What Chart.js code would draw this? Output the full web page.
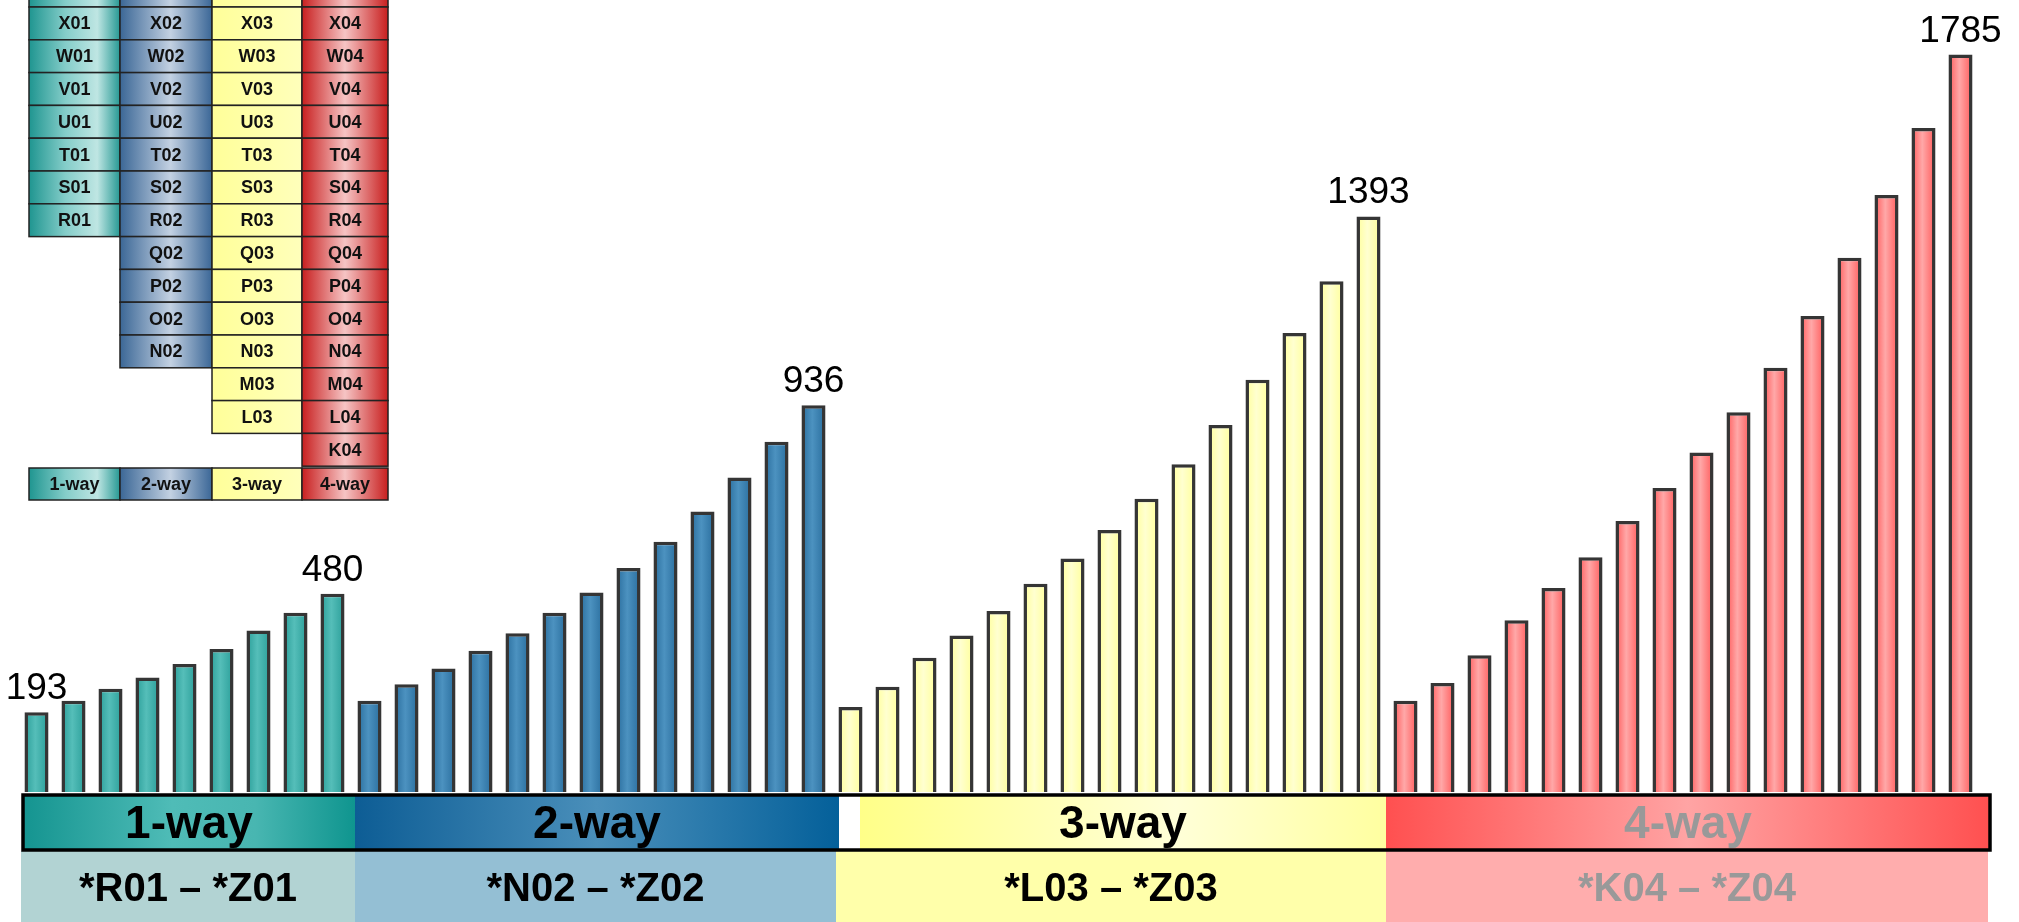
<!DOCTYPE html>
<html lang="en">
<head>
  <meta charset="UTF-8">
  <title>n-way combinations</title>
  <script src="https://cdn.jsdelivr.net/npm/chart.js"></script>
  <style>
body {
  margin: 0;
  background: #ffffff;
}
#wrap {
  position: relative;
  width: 2019px;
  height: 922px;
}
  </style>
</head>
<body>
  <div id="wrap"><canvas id="waysChart"></canvas></div>

  <script>
    // data
    const letters = ['K', 'L', 'M', 'N', 'O', 'P', 'Q', 'R', 'S', 'T', 'U', 'V', 'W', 'X', 'Y', 'Z'];
    const groupNames = ['1-way', '2-way', '3-way', '4-way'];
    const groupFirst = ['R', 'N', 'L', 'K'];
    const groupSuffix = ['01', '02', '03', '04'];
    const rangeLabels = ['*R01 – *Z01', '*N02 – *Z02', '*L03 – *Z03', '*K04 – *Z04'];
    const oneWay = [193, 221, 250, 277, 310, 346, 391, 434, 480];
    const twoWay = [221, 261, 299, 342, 384, 434, 483, 542, 606, 679, 761, 848, 936];
    const threeWay = [206, 255, 325, 379, 438, 504, 565, 634, 710, 793, 888, 998, 1111, 1236, 1393];
    const fourWay = [221, 264, 331, 416, 494, 568, 656, 736, 822, 919, 1027, 1152, 1293, 1445, 1607, 1785];

    const groups = [oneWay, twoWay, threeWay, fourWay];

    // build categories + flat values
    const categories = [];
    const values = [];
    const groupOf = [];
    groups.forEach((g, gi) => {
      const start = letters.indexOf(groupFirst[gi]);
      letters.slice(start).forEach((l, k) => {
        categories.push(l + groupSuffix[gi]);
        values.push(g[k]);
        groupOf.push(gi);
      });
    });

    // indices that get a value label: first bar, and last bar of each group
    const labelled = [0];
    let run = 0;
    groups.forEach(g => { run += g.length; labelled.push(run - 1); });

    const FONT = "'Liberation Sans', Arial, sans-serif";
    const BAR_PCT = 0.65;

    // colours
    const barStops = [
      ['#2a9e99', '#55beb9', '#2a9e99'],
      ['#296d9d', '#4c92c0', '#296d9d'],
      ['#ffff99', '#ffffd0', '#ffff99'],
      ['#ff5a5a', '#ffa8a8', '#ff5a5a']
    ];
    const cellStops = [
      [[0, '#1f9590'], [0.4, '#84cdc9'], [0.75, '#bfe6e3'], [1, '#279994']],
      [[0, '#3b6796'], [0.55, '#c3d1e2'], [1, '#3b6797']],
      [[0, '#ffff99'], [1, '#ffffbb']],
      [[0, '#c81f1f'], [0.5, '#f6c4c4'], [1, '#c81f1f']]
    ];
    const bandStops = [
      [[0, '#149490'], [0.45, '#4fbcb7'], [0.7, '#48b6b1'], [1, '#0f958f']],
      [[0, '#0d5d95'], [0.5, '#4a8fba'], [1, '#04609a']],
      [[0, '#ffff88'], [0.6, '#ffffd8'], [1, '#ffffa0']],
      [[0, '#ff5050'], [0.5, '#ffa4a4'], [1, '#ff5050']]
    ];
    const rangeFill = ['#b2d3d3', '#94bfd4', '#ffffaa', '#ffadad'];
    const textColor = ['#000000', '#000000', '#000000', '#999999'];

    // layout of the decorations (pixels)
    const tableCols = [29, 120, 212, 302, 388];
    const tableRowH = 32.8;
    const tableTopX = 7;         // top of the X row
    const legendRow = [468, 500];
    const bandEdges = [[23, 355], [355, 839], [860, 1386], [1386, 1990]];
    const rangeEdges = [[21, 355], [355, 836], [836, 1386], [1386, 1988]];
    const bandY = [795, 850];
    const rangeY = [851, 922];

    function hGrad(ctx, x0, x1, stops) {
      const g = ctx.createLinearGradient(x0, 0, x1, 0);
      stops.forEach(s => g.addColorStop(s[0], s[1]));
      return g;
    }

    // the small lookup table in the top-left corner
    const tablePlugin = {
      id: 'table',
      beforeDraw(chart) {
        const ctx = chart.ctx;
        ctx.save();
        const rows = letters.slice().reverse(); // Z .. K
        ctx.font = 'bold 18px ' + FONT;
        ctx.textAlign = 'center';
        ctx.textBaseline = 'middle';
        ctx.lineWidth = 1.5;
        ctx.strokeStyle = '#222222';
        for (let c = 0; c < 4; c++) {
          const x0 = tableCols[c], x1 = tableCols[c + 1];
          const last = rows.indexOf(groupFirst[c]);
          for (let r = 0; r <= last; r++) {
            const y0 = tableTopX + (r - 2) * tableRowH;
            ctx.fillStyle = hGrad(ctx, x0, x1, cellStops[c]);
            ctx.fillRect(x0, y0, x1 - x0, tableRowH);
            ctx.strokeRect(x0, y0, x1 - x0, tableRowH);
            ctx.fillStyle = '#111111';
            ctx.fillText(rows[r] + groupSuffix[c], (x0 + x1) / 2, y0 + tableRowH / 2 + 1);
          }
          // legend row
          const h = legendRow[1] - legendRow[0];
          ctx.fillStyle = hGrad(ctx, x0, x1, cellStops[c]);
          ctx.fillRect(x0, legendRow[0], x1 - x0, h);
          ctx.strokeRect(x0, legendRow[0], x1 - x0, h);
          ctx.fillStyle = '#111111';
          ctx.fillText(groupNames[c], (x0 + x1) / 2, legendRow[0] + h / 2 + 1);
        }
        ctx.restore();
      }
    };

    // the two strips under the bars
    const bandPlugin = {
      id: 'bands',
      afterDraw(chart) {
        const ctx = chart.ctx;
        ctx.save();
        ctx.textAlign = 'center';
        ctx.textBaseline = 'alphabetic';
        // second row: ranges
        for (let g = 0; g < 4; g++) {
          const [x0, x1] = rangeEdges[g];
          ctx.fillStyle = rangeFill[g];
          ctx.fillRect(x0, rangeY[0], x1 - x0, rangeY[1] - rangeY[0]);
          ctx.fillStyle = textColor[g];
          ctx.font = 'bold 40px ' + FONT;
          ctx.fillText(rangeLabels[g], (x0 + x1) / 2, 901);
        }
        // first row: n-way names
        ctx.fillStyle = '#ffffff';
        ctx.fillRect(bandEdges[0][0], bandY[0], bandEdges[3][1] - bandEdges[0][0], bandY[1] - bandY[0]);
        for (let g = 0; g < 4; g++) {
          const [x0, x1] = bandEdges[g];
          ctx.fillStyle = hGrad(ctx, x0, x1, bandStops[g]);
          ctx.fillRect(x0, bandY[0], x1 - x0, bandY[1] - bandY[0]);
          ctx.fillStyle = textColor[g];
          ctx.font = 'bold 46px ' + FONT;
          ctx.fillText(groupNames[g], (x0 + x1) / 2, 838);
        }
        ctx.lineWidth = 3.5;
        ctx.strokeStyle = '#000000';
        ctx.strokeRect(bandEdges[0][0], bandY[0], bandEdges[3][1] - bandEdges[0][0], bandY[1] - bandY[0]);
        ctx.restore();
      }
    };

    // value labels above first / last bars
    const valuePlugin = {
      id: 'values',
      afterDatasetsDraw(chart) {
        const ctx = chart.ctx;
        const meta = chart.getDatasetMeta(0);
        ctx.save();
        ctx.font = '37px ' + FONT;
        ctx.fillStyle = '#000000';
        ctx.textAlign = 'center';
        ctx.textBaseline = 'alphabetic';
        labelled.forEach(i => {
          const bar = meta.data[i];
          ctx.fillText(String(values[i]), bar.x, bar.y - 13);
        });
        ctx.restore();
      }
    };

    function barFill(context) {
      const chart = context.chart;
      const g = groupOf[context.dataIndex];
      const xs = chart.scales.x;
      if (!xs || !chart.chartArea) return barStops[g][1];
      const cx = xs.getPixelForValue(context.dataIndex);
      const half = xs.width / categories.length * BAR_PCT / 2;
      const grad = chart.ctx.createLinearGradient(cx - half, 0, cx + half, 0);
      grad.addColorStop(0, barStops[g][0]);
      grad.addColorStop(0.45, barStops[g][1]);
      grad.addColorStop(1, barStops[g][2]);
      return grad;
    }

    const waysCtx = document.getElementById('waysChart').getContext('2d');
    new Chart(waysCtx, {
      type: 'bar',
      data: {
        labels: categories,
        datasets: [{
          label: 'combinations',
          data: values,
          backgroundColor: barFill,
          borderColor: '#353535',
          borderWidth: 3.5,
          barPercentage: BAR_PCT,
          categoryPercentage: 1
        }]
      },
      options: {
        responsive: true,
        maintainAspectRatio: false,
        animation: false,
        layout: { padding: { left: 18, right: 40, top: 7, bottom: 130 } },
        plugins: {
          legend: { display: false },
          tooltip: { enabled: false }
        },
        scales: {
          x: { display: false, offset: true },
          y: { display: false, min: 0, max: 1900 }
        }
      },
      plugins: [tablePlugin, bandPlugin, valuePlugin]
    });
  </script>
</body>
</html>
